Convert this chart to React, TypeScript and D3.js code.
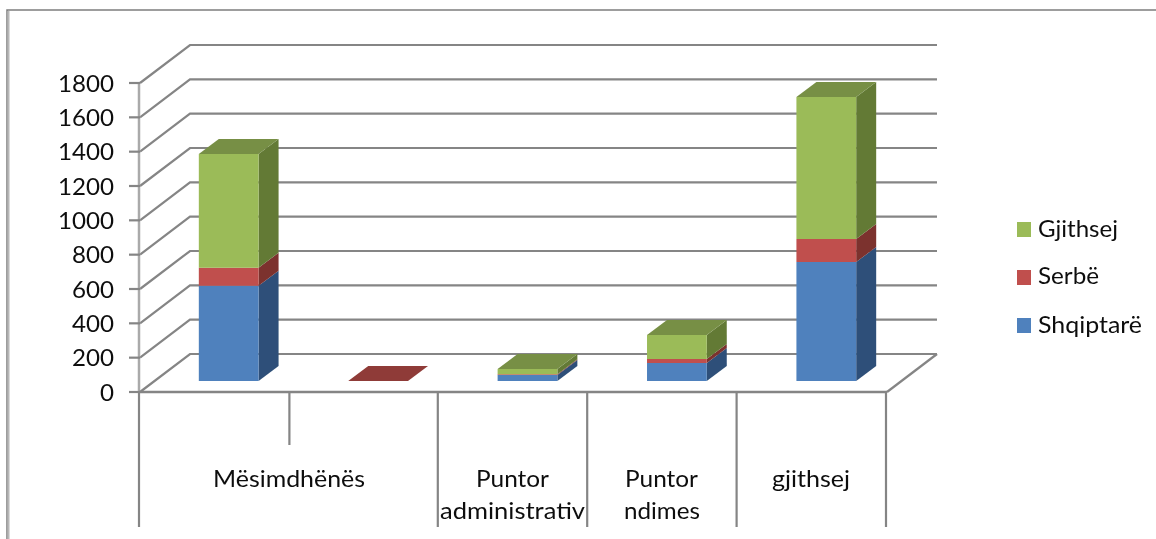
import React from "react";
import * as d3 from "d3";

const categories = ["Mësimdhënës", "(bosh)", "Puntor administrativ", "Puntor ndimes", "gjithsej"];
const shqiptare = [555, 0, 35, 105, 693];
const serbe = [105, 0, 5, 23, 134];
const gjithsej = [662, 0, 30, 140, 827];
const seriesNames = ["Shqiptarë", "Serbë", "Gjithsej"];
const tickValues = [0, 200, 400, 600, 800, 1000, 1200, 1400, 1600, 1800];

const front = ["#4F81BD", "#C0504D", "#9BBB59"];
const side = ["#2F5079", "#7B302E", "#637A36"];
const top = ["#3A6295", "#8F3A37", "#778F45"];
const gridColor = "#858585";
const FONT = "Lato, 'Noto Sans', sans-serif";

const W = 1156, H = 539;
const x0 = 140, x1 = 887;
const DX = 50, DY = -38;
const barDX = 20, barDY = -15;

const y = d3.scaleLinear().domain([0, 1800]).range([392, 83]);
const x = d3.scaleBand<string>().domain(categories).range([x0, x1]);
const barW = x.bandwidth() * 0.4;
const barOffsetX = 14, barOffsetY = -11;

const stackData = d3.stack<number>()
  .keys([0, 1, 2] as any)
  .value((i: number, k: any) => [shqiptare, serbe, gjithsej][k][i])(categories.map((_, i) => i));

function poly(pts: [number, number][]) {
  return d3.line()(pts)! + "Z";
}

function Txt({ x, y, w, size = 23, children }: any) {
  return (
    <text x={x} y={y} fontSize={size} fontFamily={FONT} fill="#111" 
      textLength={w} lengthAdjust="spacingAndGlyphs">{children}</text>
  );
}

export default function App() {
  const line = { stroke: gridColor, strokeWidth: 2.2, fill: "none" };
  return (
    <svg width={W} height={H} style={{ position: "fixed", left: 0, top: 0, background: "#fff" }}>
      <defs>
        <filter id="soft" x="-2%" y="-2%" width="104%" height="104%">
          <feGaussianBlur stdDeviation="0.45" />
        </filter>
      </defs>
      <g filter="url(#soft)">
        {/* outer frame */}
        <path d={`M7 ${H}V10H${W}`} fill="none" stroke="#7d7d7d" strokeWidth={1.5} />
        <path d={`M8.5 ${H}V11`} fill="none" stroke="#b8b8b8" strokeWidth={2} />

        {/* walls */}
        {tickValues.map(t => (
          <path key={t} {...line}
            d={`M${x0} ${y(t)}L${x0 + DX} ${y(t) + DY}H${x1 + DX}`} />
        ))}
        {/* floor and axes */}
        <path {...line} d={`M${x1} ${y(0)}L${x1 + DX} ${y(0) + DY}`} />
        <path {...line} d={`M${x0 - 1} ${y(1800)}V${y(0)}`} stroke="#aaaaaa" strokeWidth={2.5} />
        <path {...line} d={`M${x0 - 1} ${y(0)}H${x1}`} strokeWidth={2.5} />
        {tickValues.map(t => (
          <path key={t} {...line} d={`M${x0 - 11} ${y(t)}H${x0}`} />
        ))}

        {/* multi-level category axis */}
        {[0, 2, 3, 4, 5].map(i => (
          <path key={i} {...line} d={`M${x0 - 1 + i * x.step()} ${y(0)}V527`} />
        ))}
        <path {...line} d={`M${x0 + x.step()} ${y(0)}V445`} />

        {/* bars */}
        {categories.map((c, i) => {
          const left = x(c)! + (x.bandwidth() - barW) / 2 + barOffsetX;
          const right = left + barW;
          const yb = (v: number) => y(v) + barOffsetY;
          return (
            <g key={c}>
              {stackData.map((s, k) => {
                const [a, b] = s[i];
                if (b - a <= 0) return null;
                return (
                  <g key={k}>
                    <path fill={side[k]} d={poly([[right, yb(a)], [right + barDX, yb(a) + barDY], [right + barDX, yb(b) + barDY], [right, yb(b)]])} />
                    <path fill={front[k]} d={poly([[left, yb(a)], [right, yb(a)], [right, yb(b)], [left, yb(b)]])} />
                  </g>
                );
              })}
              {(() => {
                const t = stackData[2][i][1];
                const k = t > 0 ? 2 : 1;
                return <path fill={top[k]} d={poly([[left, yb(t)], [right, yb(t)], [right + barDX, yb(t) + barDY], [left + barDX, yb(t) + barDY]])} />;
              })()}
            </g>
          );
        })}
      </g>

      <g filter="url(#soft)">
        {/* value axis labels */}
        {tickValues.map(t => {
          const label = String(t);
          const w = label.length * 14;
          return <Txt key={t} x={114 - w} y={y(t) + 8.5} w={w}>{label}</Txt>;
        })}

        {/* category labels */}
        <Txt x={213} y={487} w={152}>Mësimdhënës</Txt>
        <Txt x={476} y={487} w={73}>Puntor</Txt>
        <Txt x={440} y={519} w={145}>administrativ</Txt>
        <Txt x={625} y={487} w={73}>Puntor</Txt>
        <Txt x={624} y={519} w={76}>ndimes</Txt>
        <Txt x={772} y={487} w={78}>gjithsej</Txt>

        {/* legend */}
        {[2, 1, 0].map((k, row) => {
          const sy = [222, 270, 318][row];
          const w = [80, 61, 104][row];
          return (
            <g key={k}>
              <rect x={1017} y={sy} width={14} height={15} fill={front[k]} />
              <Txt x={1038} y={[237, 284, 333][row]} w={w}>{seriesNames[k]}</Txt>
            </g>
          );
        })}
      </g>
    </svg>
  );
}
